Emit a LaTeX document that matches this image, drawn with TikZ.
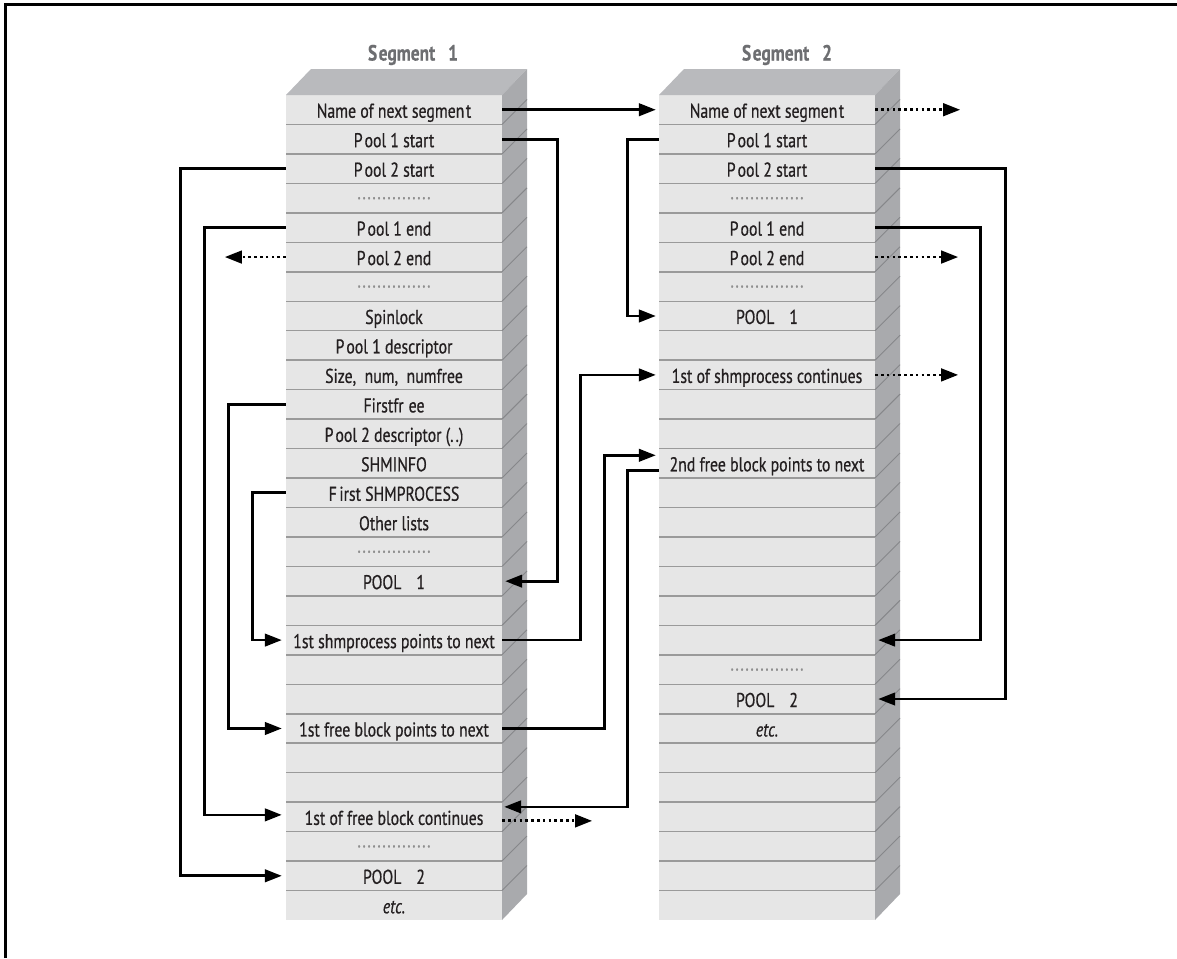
\documentclass[tikz,border=0pt]{standalone}
\usepackage{fontspec}
\setmainfont{PT Sans}[FakeStretch=0.79, FakeBold=0.6]
\usetikzlibrary{arrows.meta}
\definecolor{facec}{HTML}{E6E6E6}
\definecolor{sidec}{HTML}{A9AAAD}
\definecolor{topc}{HTML}{B9BABD}
\definecolor{sepc}{HTML}{9A9A9A}
\definecolor{dotc}{HTML}{8E8E8E}
\definecolor{diagc}{HTML}{86878A}
\definecolor{titlec}{HTML}{6D6E71}
\definecolor{txtc}{HTML}{231F20}
\newcommand\dk{.\kern1.6pt}
\newcommand\dotrow{\raisebox{7pt}{\textcolor{dotc}{\dk\dk\dk\dk\dk\dk\dk\dk\dk\dk\dk\dk\dk\dk.}}}
\begin{document}
\begin{tikzpicture}[x=1pt,y=-1pt,
  rowtext/.style={minimum width=216pt, minimum height=29.46pt, inner sep=0pt,
    text height=16pt, text depth=0pt, text=txtc, font=\fontsize{20}{23}\selectfont},
  link/.style={line width=2.7pt, line join=miter, -{Triangle[length=17pt,width=12.5pt]}},
  dotlink/.style={line width=2.8pt, dash pattern=on 2.6pt off 3.2pt, -{Triangle[length=17pt,width=12.5pt]}},
  segtitle/.style={text=titlec, font=\fontsize{22}{25}\selectfont\bfseries, inner sep=0pt}]

\useasboundingbox (0,0) rectangle (1177,958);
\draw[line width=3pt] (5,958) -- (5,5) -- (1177,5);

% the two segment blocks
\foreach \L in {286,659}{
  \fill[facec] (\L,95) rectangle (\L+216,920);
  \fill[topc] (\L,95) -- (\L+25,69) -- (\L+241,69) -- (\L+216,95) -- cycle;
  \fill[sidec] (\L+216,95) -- (\L+241,69) -- (\L+241,894) -- (\L+216,920) -- cycle;
  \foreach \k in {1,...,27}{
    \draw[sepc, line width=1.5pt] (\L,{95+\k*29.464}) -- (\L+216,{95+\k*29.464});
    \draw[diagc, line width=0.9pt] (\L+216,{95+\k*29.464}) -- (\L+241,{95+\k*29.464-25});
  }
}

\node[segtitle] (t1) at (413,55) {S\kern1.5pt egment\hspace{13pt}1};
\node[segtitle] (t2) at (787,55) {S\kern1.5pt egment\hspace{13pt}2};

% rows of segment 1
\foreach \i/\t in {
  1/{Name of next segmen\kern1.5pt t},
  2/{P\kern2pt ool 1 start},
  3/{P\kern2pt ool 2 start},
  4/{\dotrow},
  5/{P\kern2pt ool 1 end},
  6/{P\kern2pt ool 2 end},
  7/{\dotrow},
  8/{Spinlock},
  9/{P\kern2pt ool 1 descriptor},
  10/{Size, \ num, \ numfree},
  11/{Firstfr\kern5pt ee},
  12/{P\kern2pt ool 2 descriptor (.\kern2pt.)},
  13/{SHMINFO},
  14/{F\kern2.5pt irst SHMPROCESS},
  15/{Other lists},
  16/{\dotrow},
  17/{POOL\hspace{15pt}1},
  18/{},
  19/{1st shmprocess points to next},
  20/{},
  21/{},
  22/{1st free block points to next},
  23/{},
  24/{},
  25/{1st of free block continues},
  26/{\dotrow},
  27/{POOL\hspace{15pt}2},
  28/{\textit{etc.}}}{
  \node[rowtext] (s1r\i) at (394,{95+(\i-0.5)*29.464}) {\t};
}

% rows of segment 2
\foreach \i/\t in {
  1/{Name of next segmen\kern1.5pt t},
  2/{P\kern2pt ool 1 start},
  3/{P\kern2pt ool 2 start},
  4/{\dotrow},
  5/{P\kern2pt ool 1 end},
  6/{P\kern2pt ool 2 end},
  7/{\dotrow},
  8/{POOL\hspace{15pt}1},
  9/{},
  10/{1st of shmprocess continues},
  11/{},
  12/{},
  13/{2nd free block points to next},
  14/{},
  15/{},
  16/{},
  17/{},
  18/{},
  19/{},
  20/{\dotrow},
  21/{POOL\hspace{15pt}2},
  22/{\textit{etc.}},
  23/{},
  24/{},
  25/{},
  26/{},
  27/{},
  28/{}}{
  \node[rowtext] (s2r\i) at (767,{95+(\i-0.5)*29.464}) {\t};
}

% connectors of segment 1
\draw[link] (s1r1.east) -- ([xshift=-3pt]s2r1.west);
\draw[link] (s1r2.east) -- ++(55,0) |- ([xshift=3pt]s1r17.east);
\draw[link] (s1r3.west) -- ++(-105,0) |- ([xshift=-4pt]s1r27.west);
\draw[link] (s1r5.west) -- ++(-81,0) |- ([xshift=-4pt,yshift=2pt]s1r25.west);
\draw[dotlink] (s1r6.west) -- ([xshift=-61pt]s1r6.west);
\draw[link] (s1r11.west) -- ++(-57,0) |- ([xshift=-4pt]s1r22.west);
\draw[link] (s1r14.west) -- ++(-33,0) |- ([xshift=-4pt]s1r19.west);
\draw[link] (s1r19.east) -- ++(78,0) |- ([xshift=-3pt]s2r10.west);
\draw[link] (s1r22.east) -- ++(102,0) |- ([xshift=-3pt,yshift=8pt]s2r13.west);
\draw[link] ([yshift=-7pt]s2r13.west) -- ++(-31,0) |- ([xshift=2pt,yshift=10pt]s1r25.east);
\draw[dotlink] ([yshift=-4pt]s1r25.east) -- ([xshift=90pt,yshift=-4pt]s1r25.east);

% connectors of segment 2
\draw[dotlink] (s2r1.east) -- ([xshift=85pt]s2r1.east);
\draw[link] (s2r2.west) -- ++(-31,0) |- ([xshift=-3pt]s2r8.west);
\draw[link] (s2r3.east) -- ++(130,0) |- ([xshift=3pt]s2r21.east);
\draw[link] (s2r5.east) -- ++(105,0) |- ([xshift=3pt]s2r19.east);
\draw[dotlink] (s2r6.east) -- ([xshift=83pt]s2r6.east);
\draw[dotlink] (s2r10.east) -- ([xshift=83pt]s2r10.east);
\end{tikzpicture}
\end{document}
